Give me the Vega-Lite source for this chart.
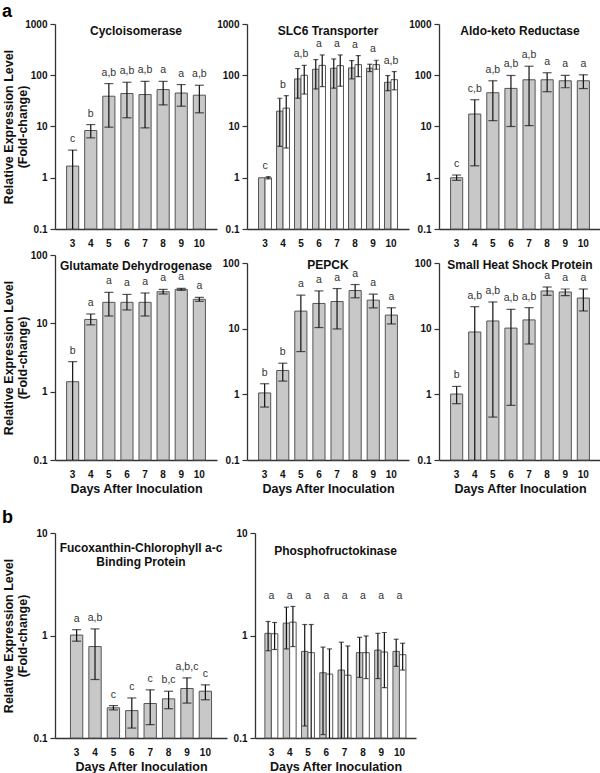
{
"$schema": "https://vega.github.io/schema/vega-lite/v6.json",
"padding": {"left": 2, "top": 3, "right": 0, "bottom": 0},
"background": "white",
"config": {
  "font": "Liberation Sans",
  "view": {"stroke": null},
  "axis": {"grid": false, "domainColor": "#333", "domainWidth": 1.3, "tickColor": "#333", "labelFont": "Liberation Sans", "labelFontSize": 10, "labelFontWeight": "bold", "labelColor": "#111", "titleFont": "Liberation Sans", "titleFontSize": 12.5, "titleFontWeight": "bold", "titleColor": "#111"},
  "axisX": {"ticks": false, "tickSize": 0, "labelPadding": 9, "labelAngle": 0, "titlePadding": 3},
  "axisY": {"tickSize": 5, "tickWidth": 1.2, "labelPadding": 3},
  "title": {"font": "Liberation Sans", "fontSize": 12, "fontWeight": "bold", "color": "#111"}
},
"datasets": {
  "bars": [
    {"gene": "Cycloisomerase", "day": 3, "series": "A", "mean": 1.69, "lo": 0.1, "hi": 3.46},
    {"gene": "Cycloisomerase", "day": 4, "series": "A", "mean": 8.36, "lo": 6.0, "hi": 10.9},
    {"gene": "Cycloisomerase", "day": 5, "series": "A", "mean": 39, "lo": 9.7, "hi": 68.8},
    {"gene": "Cycloisomerase", "day": 6, "series": "A", "mean": 44, "lo": 14.8, "hi": 73},
    {"gene": "Cycloisomerase", "day": 7, "series": "A", "mean": 42, "lo": 9.4, "hi": 76},
    {"gene": "Cycloisomerase", "day": 8, "series": "A", "mean": 52.6, "lo": 26.4, "hi": 76},
    {"gene": "Cycloisomerase", "day": 9, "series": "A", "mean": 45, "lo": 24.9, "hi": 65.8},
    {"gene": "Cycloisomerase", "day": 10, "series": "A", "mean": 40.8, "lo": 18.5, "hi": 63.8},
    {"gene": "SLC6 Transporter", "day": 3, "series": "A", "mean": 1.0, "lo": null, "hi": null},
    {"gene": "SLC6 Transporter", "day": 3, "series": "B", "mean": 1.0, "lo": 0.95, "hi": 1.05},
    {"gene": "SLC6 Transporter", "day": 4, "series": "A", "mean": 19.9, "lo": 4.1, "hi": 35.6},
    {"gene": "SLC6 Transporter", "day": 4, "series": "B", "mean": 22.8, "lo": 3.8, "hi": 40},
    {"gene": "SLC6 Transporter", "day": 5, "series": "A", "mean": 84.8, "lo": 35.6, "hi": 135},
    {"gene": "SLC6 Transporter", "day": 5, "series": "B", "mean": 100, "lo": 43, "hi": 156},
    {"gene": "SLC6 Transporter", "day": 6, "series": "A", "mean": 131, "lo": 54, "hi": 202},
    {"gene": "SLC6 Transporter", "day": 6, "series": "B", "mean": 156, "lo": 60, "hi": 249},
    {"gene": "SLC6 Transporter", "day": 7, "series": "A", "mean": 137, "lo": 56, "hi": 208},
    {"gene": "SLC6 Transporter", "day": 7, "series": "B", "mean": 154, "lo": 61, "hi": 249},
    {"gene": "SLC6 Transporter", "day": 8, "series": "A", "mean": 139, "lo": 85, "hi": 193},
    {"gene": "SLC6 Transporter", "day": 8, "series": "B", "mean": 161, "lo": 94, "hi": 242},
    {"gene": "SLC6 Transporter", "day": 9, "series": "A", "mean": 137, "lo": 118, "hi": 164},
    {"gene": "SLC6 Transporter", "day": 9, "series": "B", "mean": 161, "lo": 131, "hi": 196},
    {"gene": "SLC6 Transporter", "day": 10, "series": "A", "mean": 73, "lo": 50, "hi": 98.6},
    {"gene": "SLC6 Transporter", "day": 10, "series": "B", "mean": 82, "lo": 52, "hi": 118},
    {"gene": "Aldo-keto Reductase", "day": 3, "series": "A", "mean": 1.0, "lo": 0.89, "hi": 1.13},
    {"gene": "Aldo-keto Reductase", "day": 4, "series": "A", "mean": 17.5, "lo": 1.71, "hi": 33.3},
    {"gene": "Aldo-keto Reductase", "day": 5, "series": "A", "mean": 45.6, "lo": 13, "hi": 78},
    {"gene": "Aldo-keto Reductase", "day": 6, "series": "A", "mean": 55.4, "lo": 10, "hi": 99},
    {"gene": "Aldo-keto Reductase", "day": 7, "series": "A", "mean": 81.6, "lo": 10.4, "hi": 150},
    {"gene": "Aldo-keto Reductase", "day": 8, "series": "A", "mean": 81.6, "lo": 47.7, "hi": 112},
    {"gene": "Aldo-keto Reductase", "day": 9, "series": "A", "mean": 78, "lo": 57, "hi": 99},
    {"gene": "Aldo-keto Reductase", "day": 10, "series": "A", "mean": 78, "lo": 55, "hi": 102},
    {"gene": "Glutamate Dehydrogenase", "day": 3, "series": "A", "mean": 1.4, "lo": 0.1, "hi": 2.75},
    {"gene": "Glutamate Dehydrogenase", "day": 4, "series": "A", "mean": 11.4, "lo": 9.5, "hi": 13.7},
    {"gene": "Glutamate Dehydrogenase", "day": 5, "series": "A", "mean": 20.3, "lo": 12.8, "hi": 28.4},
    {"gene": "Glutamate Dehydrogenase", "day": 6, "series": "A", "mean": 20.3, "lo": 15.7, "hi": 26.5},
    {"gene": "Glutamate Dehydrogenase", "day": 7, "series": "A", "mean": 20.3, "lo": 12.8, "hi": 27.8},
    {"gene": "Glutamate Dehydrogenase", "day": 8, "series": "A", "mean": 29, "lo": 26.9, "hi": 31.4},
    {"gene": "Glutamate Dehydrogenase", "day": 9, "series": "A", "mean": 31.4, "lo": 30.4, "hi": 32.5},
    {"gene": "Glutamate Dehydrogenase", "day": 10, "series": "A", "mean": 22.5, "lo": 21, "hi": 24},
    {"gene": "PEPCK", "day": 3, "series": "A", "mean": 1.05, "lo": 0.64, "hi": 1.45},
    {"gene": "PEPCK", "day": 4, "series": "A", "mean": 2.31, "lo": 1.59, "hi": 2.98},
    {"gene": "PEPCK", "day": 5, "series": "A", "mean": 18.5, "lo": 4.48, "hi": 32.4},
    {"gene": "PEPCK", "day": 6, "series": "A", "mean": 24.2, "lo": 10.4, "hi": 37.6},
    {"gene": "PEPCK", "day": 7, "series": "A", "mean": 25.9, "lo": 9.9, "hi": 40.8},
    {"gene": "PEPCK", "day": 8, "series": "A", "mean": 38.1, "lo": 29.5, "hi": 47},
    {"gene": "PEPCK", "day": 9, "series": "A", "mean": 27.2, "lo": 20.8, "hi": 33.5},
    {"gene": "PEPCK", "day": 10, "series": "A", "mean": 16.1, "lo": 11.8, "hi": 20.8},
    {"gene": "Small Heat Shock Protein", "day": 3, "series": "A", "mean": 1.01, "lo": 0.72, "hi": 1.32},
    {"gene": "Small Heat Shock Protein", "day": 4, "series": "A", "mean": 8.9, "lo": 0.1, "hi": 21.6},
    {"gene": "Small Heat Shock Protein", "day": 5, "series": "A", "mean": 13.1, "lo": 0.45, "hi": 25.5},
    {"gene": "Small Heat Shock Protein", "day": 6, "series": "A", "mean": 10.2, "lo": 0.68, "hi": 19.7},
    {"gene": "Small Heat Shock Protein", "day": 7, "series": "A", "mean": 13.6, "lo": 5.84, "hi": 20.9},
    {"gene": "Small Heat Shock Protein", "day": 8, "series": "A", "mean": 37.5, "lo": 32.2, "hi": 43.1},
    {"gene": "Small Heat Shock Protein", "day": 9, "series": "A", "mean": 36.2, "lo": 31.8, "hi": 40.2},
    {"gene": "Small Heat Shock Protein", "day": 10, "series": "A", "mean": 29.3, "lo": 18.6, "hi": 40.2},
    {"gene": "Fucoxanthin-Chlorophyll a-c Binding Protein", "day": 3, "series": "A", "mean": 1.01, "lo": 0.88, "hi": 1.14},
    {"gene": "Fucoxanthin-Chlorophyll a-c Binding Protein", "day": 4, "series": "A", "mean": 0.78, "lo": 0.372, "hi": 1.16},
    {"gene": "Fucoxanthin-Chlorophyll a-c Binding Protein", "day": 5, "series": "A", "mean": 0.197, "lo": 0.188, "hi": 0.207},
    {"gene": "Fucoxanthin-Chlorophyll a-c Binding Protein", "day": 6, "series": "A", "mean": 0.185, "lo": 0.125, "hi": 0.246},
    {"gene": "Fucoxanthin-Chlorophyll a-c Binding Protein", "day": 7, "series": "A", "mean": 0.217, "lo": 0.135, "hi": 0.295},
    {"gene": "Fucoxanthin-Chlorophyll a-c Binding Protein", "day": 8, "series": "A", "mean": 0.241, "lo": 0.193, "hi": 0.286},
    {"gene": "Fucoxanthin-Chlorophyll a-c Binding Protein", "day": 9, "series": "A", "mean": 0.304, "lo": 0.219, "hi": 0.386},
    {"gene": "Fucoxanthin-Chlorophyll a-c Binding Protein", "day": 10, "series": "A", "mean": 0.286, "lo": 0.236, "hi": 0.33},
    {"gene": "Phosphofructokinase", "day": 3, "series": "A", "mean": 1.05, "lo": 0.71, "hi": 1.37},
    {"gene": "Phosphofructokinase", "day": 3, "series": "B", "mean": 1.04, "lo": 0.73, "hi": 1.34},
    {"gene": "Phosphofructokinase", "day": 4, "series": "A", "mean": 1.32, "lo": 0.74, "hi": 1.89},
    {"gene": "Phosphofructokinase", "day": 4, "series": "B", "mean": 1.35, "lo": 0.78, "hi": 1.92},
    {"gene": "Phosphofructokinase", "day": 5, "series": "A", "mean": 0.70, "lo": 0.131, "hi": 1.28},
    {"gene": "Phosphofructokinase", "day": 5, "series": "B", "mean": 0.68, "lo": 0.1, "hi": 1.28},
    {"gene": "Phosphofructokinase", "day": 6, "series": "A", "mean": 0.433, "lo": 0.108, "hi": 0.77},
    {"gene": "Phosphofructokinase", "day": 6, "series": "B", "mean": 0.42, "lo": 0.1, "hi": 0.74},
    {"gene": "Phosphofructokinase", "day": 7, "series": "A", "mean": 0.46, "lo": 0.1, "hi": 0.86},
    {"gene": "Phosphofructokinase", "day": 7, "series": "B", "mean": 0.41, "lo": 0.1, "hi": 0.79},
    {"gene": "Phosphofructokinase", "day": 8, "series": "A", "mean": 0.68, "lo": 0.39, "hi": 0.96},
    {"gene": "Phosphofructokinase", "day": 8, "series": "B", "mean": 0.68, "lo": 0.38, "hi": 0.99},
    {"gene": "Phosphofructokinase", "day": 9, "series": "A", "mean": 0.72, "lo": 0.38, "hi": 1.05},
    {"gene": "Phosphofructokinase", "day": 9, "series": "B", "mean": 0.69, "lo": 0.31, "hi": 1.07},
    {"gene": "Phosphofructokinase", "day": 10, "series": "A", "mean": 0.70, "lo": 0.50, "hi": 0.92},
    {"gene": "Phosphofructokinase", "day": 10, "series": "B", "mean": 0.65, "lo": 0.46, "hi": 0.84}
  ],
  "letters": [
    {"gene": "Cycloisomerase", "day": 3, "letter": "c", "top": 3.46},
    {"gene": "Cycloisomerase", "day": 4, "letter": "b", "top": 10.9},
    {"gene": "Cycloisomerase", "day": 5, "letter": "a,b", "top": 68.8},
    {"gene": "Cycloisomerase", "day": 6, "letter": "a,b", "top": 73},
    {"gene": "Cycloisomerase", "day": 7, "letter": "a,b", "top": 76},
    {"gene": "Cycloisomerase", "day": 8, "letter": "a", "top": 76},
    {"gene": "Cycloisomerase", "day": 9, "letter": "a", "top": 65.8},
    {"gene": "Cycloisomerase", "day": 10, "letter": "a,b", "top": 63.8},
    {"gene": "SLC6 Transporter", "day": 3, "letter": "c", "top": 1.05},
    {"gene": "SLC6 Transporter", "day": 4, "letter": "b", "top": 40},
    {"gene": "SLC6 Transporter", "day": 5, "letter": "a,b", "top": 156},
    {"gene": "SLC6 Transporter", "day": 6, "letter": "a", "top": 249},
    {"gene": "SLC6 Transporter", "day": 7, "letter": "a", "top": 249},
    {"gene": "SLC6 Transporter", "day": 8, "letter": "a", "top": 242},
    {"gene": "SLC6 Transporter", "day": 9, "letter": "a", "top": 196},
    {"gene": "SLC6 Transporter", "day": 10, "letter": "a,b", "top": 118},
    {"gene": "Aldo-keto Reductase", "day": 3, "letter": "c", "top": 1.13},
    {"gene": "Aldo-keto Reductase", "day": 4, "letter": "c,b", "top": 33.3},
    {"gene": "Aldo-keto Reductase", "day": 5, "letter": "a,b", "top": 78},
    {"gene": "Aldo-keto Reductase", "day": 6, "letter": "a,b", "top": 99},
    {"gene": "Aldo-keto Reductase", "day": 7, "letter": "a,b", "top": 150},
    {"gene": "Aldo-keto Reductase", "day": 8, "letter": "a", "top": 112},
    {"gene": "Aldo-keto Reductase", "day": 9, "letter": "a", "top": 99},
    {"gene": "Aldo-keto Reductase", "day": 10, "letter": "a", "top": 102},
    {"gene": "Glutamate Dehydrogenase", "day": 3, "letter": "b", "top": 2.75},
    {"gene": "Glutamate Dehydrogenase", "day": 4, "letter": "a", "top": 13.7},
    {"gene": "Glutamate Dehydrogenase", "day": 5, "letter": "a", "top": 28.4},
    {"gene": "Glutamate Dehydrogenase", "day": 6, "letter": "a", "top": 26.5},
    {"gene": "Glutamate Dehydrogenase", "day": 7, "letter": "a", "top": 27.8},
    {"gene": "Glutamate Dehydrogenase", "day": 8, "letter": "a", "top": 31.4},
    {"gene": "Glutamate Dehydrogenase", "day": 9, "letter": "a", "top": 32.5},
    {"gene": "Glutamate Dehydrogenase", "day": 10, "letter": "a", "top": 24},
    {"gene": "PEPCK", "day": 3, "letter": "b", "top": 1.45},
    {"gene": "PEPCK", "day": 4, "letter": "b", "top": 2.98},
    {"gene": "PEPCK", "day": 5, "letter": "a", "top": 32.4},
    {"gene": "PEPCK", "day": 6, "letter": "a", "top": 37.6},
    {"gene": "PEPCK", "day": 7, "letter": "a", "top": 40.8},
    {"gene": "PEPCK", "day": 8, "letter": "a", "top": 47},
    {"gene": "PEPCK", "day": 9, "letter": "a", "top": 33.5},
    {"gene": "PEPCK", "day": 10, "letter": "a", "top": 20.8},
    {"gene": "Small Heat Shock Protein", "day": 3, "letter": "b", "top": 1.32},
    {"gene": "Small Heat Shock Protein", "day": 4, "letter": "a,b", "top": 21.6},
    {"gene": "Small Heat Shock Protein", "day": 5, "letter": "a,b", "top": 25.5},
    {"gene": "Small Heat Shock Protein", "day": 6, "letter": "a,b", "top": 19.7},
    {"gene": "Small Heat Shock Protein", "day": 7, "letter": "a,b", "top": 20.9},
    {"gene": "Small Heat Shock Protein", "day": 8, "letter": "a", "top": 43.1},
    {"gene": "Small Heat Shock Protein", "day": 9, "letter": "a", "top": 40.2},
    {"gene": "Small Heat Shock Protein", "day": 10, "letter": "a", "top": 40.2},
    {"gene": "Fucoxanthin-Chlorophyll a-c Binding Protein", "day": 3, "letter": "a", "top": 1.14},
    {"gene": "Fucoxanthin-Chlorophyll a-c Binding Protein", "day": 4, "letter": "a,b", "top": 1.16},
    {"gene": "Fucoxanthin-Chlorophyll a-c Binding Protein", "day": 5, "letter": "c", "top": 0.207},
    {"gene": "Fucoxanthin-Chlorophyll a-c Binding Protein", "day": 6, "letter": "c", "top": 0.246},
    {"gene": "Fucoxanthin-Chlorophyll a-c Binding Protein", "day": 7, "letter": "c", "top": 0.295},
    {"gene": "Fucoxanthin-Chlorophyll a-c Binding Protein", "day": 8, "letter": "b,c", "top": 0.286},
    {"gene": "Fucoxanthin-Chlorophyll a-c Binding Protein", "day": 9, "letter": "a,b,c", "top": 0.386},
    {"gene": "Fucoxanthin-Chlorophyll a-c Binding Protein", "day": 10, "letter": "c", "top": 0.33},
    {"gene": "Phosphofructokinase", "day": 3, "letter": "a", "top": 1.37},
    {"gene": "Phosphofructokinase", "day": 4, "letter": "a", "top": 1.92},
    {"gene": "Phosphofructokinase", "day": 5, "letter": "a", "top": 1.28},
    {"gene": "Phosphofructokinase", "day": 6, "letter": "a", "top": 0.77},
    {"gene": "Phosphofructokinase", "day": 7, "letter": "a", "top": 0.86},
    {"gene": "Phosphofructokinase", "day": 8, "letter": "a", "top": 0.99},
    {"gene": "Phosphofructokinase", "day": 9, "letter": "a", "top": 1.07},
    {"gene": "Phosphofructokinase", "day": 10, "letter": "a", "top": 0.92}
  ]
},
"spacing": 14,
"vconcat": [
{
  "title": {"text": "a", "anchor": "start", "frame": "bounds", "fontSize": 18, "fontWeight": "bold", "color": "#000", "offset": -2},
  "columns": 3,
  "spacing": {"row": 26, "column": 30},
  "bounds": "flush",
  "concat": [
  {
    "width": 162, "height": 205,
    "title": {"text": "Cycloisomerase", "offset": -19},
    "layer": [
      {"data": {"name": "bars"}, "transform": [{"filter": "datum.gene === 'Cycloisomerase'"}],
       "mark": {"type": "bar", "fill": "#c8c8c8", "stroke": "#555", "strokeWidth": 1},
       "encoding": {
         "x": {"field": "day", "type": "ordinal", "scale": {"paddingInner": 0.33, "paddingOuter": 0.64}, "axis": {"title": null}},
         "y": {"field": "mean", "type": "quantitative", "scale": {"type": "log", "domain": [0.1, 1000]}, "axis": {"values": [0.1, 1, 10, 100, 1000], "format": ".1~f", "title": ["Relative Expression Level", "(Fold-change)"], "minExtent": 30, "maxExtent": 30, "titlePadding": -4, "titleLineHeight": 14}},
         "y2": {"datum": 0.1}}},
      {"data": {"name": "bars"}, "transform": [{"filter": "datum.gene === 'Cycloisomerase' && datum.hi != null"}],
       "mark": {"type": "rule", "color": "#111", "strokeWidth": 1.2},
       "encoding": {"x": {"field": "day", "type": "ordinal"}, "y": {"field": "lo", "type": "quantitative"}, "y2": {"field": "hi"}}},
      {"data": {"name": "bars"}, "transform": [{"filter": "datum.gene === 'Cycloisomerase' && datum.hi != null"}],
       "mark": {"type": "tick", "color": "#111", "thickness": 1.2, "size": 9},
       "encoding": {"x": {"field": "day", "type": "ordinal"}, "y": {"field": "hi", "type": "quantitative"}}},
      {"data": {"name": "bars"}, "transform": [{"filter": "datum.gene === 'Cycloisomerase' && datum.lo > 0.1"}],
       "mark": {"type": "tick", "color": "#111", "thickness": 1.2, "size": 9},
       "encoding": {"x": {"field": "day", "type": "ordinal"}, "y": {"field": "lo", "type": "quantitative"}}},
      {"data": {"name": "letters"}, "transform": [{"filter": "datum.gene === 'Cycloisomerase'"}],
       "mark": {"type": "text", "baseline": "alphabetic", "dy": -8, "fontSize": 10.5, "color": "#333"},
       "encoding": {"x": {"field": "day", "type": "ordinal"}, "y": {"field": "top", "type": "quantitative"}, "text": {"field": "letter"}}}
    ]
  },
  {
    "width": 162, "height": 205,
    "title": {"text": "SLC6 Transporter", "offset": -19},
    "layer": [
      {"data": {"name": "bars"}, "transform": [{"filter": "datum.gene === 'SLC6 Transporter'"}],
       "mark": {"type": "bar", "stroke": "#555", "strokeWidth": 1},
       "encoding": {
         "x": {"field": "day", "type": "ordinal", "scale": {"paddingInner": 0.28, "paddingOuter": 0.64}, "axis": {"title": null}},
         "xOffset": {"field": "series", "type": "nominal", "scale": {"paddingInner": 0, "paddingOuter": 0}},
         "fill": {"field": "series", "type": "nominal", "scale": {"domain": ["A", "B"], "range": ["#c8c8c8", "#ffffff"]}, "legend": null},
         "y": {"field": "mean", "type": "quantitative", "scale": {"type": "log", "domain": [0.1, 1000]}, "axis": {"values": [0.1, 1, 10, 100, 1000], "format": ".1~f", "title": null}},
         "y2": {"datum": 0.1}}},
      {"data": {"name": "bars"}, "transform": [{"filter": "datum.gene === 'SLC6 Transporter' && datum.hi != null"}],
       "mark": {"type": "rule", "color": "#111", "strokeWidth": 1.2},
       "encoding": {"x": {"field": "day", "type": "ordinal"}, "xOffset": {"field": "series", "type": "nominal"}, "y": {"field": "lo", "type": "quantitative"}, "y2": {"field": "hi"}}},
      {"data": {"name": "bars"}, "transform": [{"filter": "datum.gene === 'SLC6 Transporter' && datum.hi != null"}],
       "mark": {"type": "tick", "color": "#111", "thickness": 1.2, "size": 5},
       "encoding": {"x": {"field": "day", "type": "ordinal"}, "xOffset": {"field": "series", "type": "nominal"}, "y": {"field": "hi", "type": "quantitative"}}},
      {"data": {"name": "bars"}, "transform": [{"filter": "datum.gene === 'SLC6 Transporter' && datum.lo > 0.1"}],
       "mark": {"type": "tick", "color": "#111", "thickness": 1.2, "size": 5},
       "encoding": {"x": {"field": "day", "type": "ordinal"}, "xOffset": {"field": "series", "type": "nominal"}, "y": {"field": "lo", "type": "quantitative"}}},
      {"data": {"name": "letters"}, "transform": [{"filter": "datum.gene === 'SLC6 Transporter'"}],
       "mark": {"type": "text", "baseline": "alphabetic", "dy": -8, "fontSize": 10.5, "color": "#333"},
       "encoding": {"x": {"field": "day", "type": "ordinal"}, "y": {"field": "top", "type": "quantitative"}, "text": {"field": "letter"}}}
    ]
  },
  {
    "width": 162, "height": 205,
    "title": {"text": "Aldo-keto Reductase", "offset": -19},
    "layer": [
      {"data": {"name": "bars"}, "transform": [{"filter": "datum.gene === 'Aldo-keto Reductase'"}],
       "mark": {"type": "bar", "fill": "#c8c8c8", "stroke": "#555", "strokeWidth": 1},
       "encoding": {
         "x": {"field": "day", "type": "ordinal", "scale": {"paddingInner": 0.33, "paddingOuter": 0.64}, "axis": {"title": null}},
         "y": {"field": "mean", "type": "quantitative", "scale": {"type": "log", "domain": [0.1, 1000]}, "axis": {"values": [0.1, 1, 10, 100, 1000], "format": ".1~f", "title": null}},
         "y2": {"datum": 0.1}}},
      {"data": {"name": "bars"}, "transform": [{"filter": "datum.gene === 'Aldo-keto Reductase' && datum.hi != null"}],
       "mark": {"type": "rule", "color": "#111", "strokeWidth": 1.2},
       "encoding": {"x": {"field": "day", "type": "ordinal"}, "y": {"field": "lo", "type": "quantitative"}, "y2": {"field": "hi"}}},
      {"data": {"name": "bars"}, "transform": [{"filter": "datum.gene === 'Aldo-keto Reductase' && datum.hi != null"}],
       "mark": {"type": "tick", "color": "#111", "thickness": 1.2, "size": 9},
       "encoding": {"x": {"field": "day", "type": "ordinal"}, "y": {"field": "hi", "type": "quantitative"}}},
      {"data": {"name": "bars"}, "transform": [{"filter": "datum.gene === 'Aldo-keto Reductase' && datum.lo > 0.1"}],
       "mark": {"type": "tick", "color": "#111", "thickness": 1.2, "size": 9},
       "encoding": {"x": {"field": "day", "type": "ordinal"}, "y": {"field": "lo", "type": "quantitative"}}},
      {"data": {"name": "letters"}, "transform": [{"filter": "datum.gene === 'Aldo-keto Reductase'"}],
       "mark": {"type": "text", "baseline": "alphabetic", "dy": -8, "fontSize": 10.5, "color": "#333"},
       "encoding": {"x": {"field": "day", "type": "ordinal"}, "y": {"field": "top", "type": "quantitative"}, "text": {"field": "letter"}}}
    ]
  },
  {
    "width": 162, "height": 205,
    "title": {"text": "Glutamate Dehydrogenase", "offset": -23},
    "layer": [
      {"data": {"name": "bars"}, "transform": [{"filter": "datum.gene === 'Glutamate Dehydrogenase'"}],
       "mark": {"type": "bar", "fill": "#c8c8c8", "stroke": "#555", "strokeWidth": 1},
       "encoding": {
         "x": {"field": "day", "type": "ordinal", "scale": {"paddingInner": 0.33, "paddingOuter": 0.64}, "axis": {"title": "Days After Inoculation"}},
         "y": {"field": "mean", "type": "quantitative", "scale": {"type": "log", "domain": [0.1, 100]}, "axis": {"values": [0.1, 1, 10, 100], "format": ".1~f", "title": ["Relative Expression Level", "(Fold-change)"], "minExtent": 30, "maxExtent": 30, "titlePadding": -4, "titleLineHeight": 14}},
         "y2": {"datum": 0.1}}},
      {"data": {"name": "bars"}, "transform": [{"filter": "datum.gene === 'Glutamate Dehydrogenase' && datum.hi != null"}],
       "mark": {"type": "rule", "color": "#111", "strokeWidth": 1.2},
       "encoding": {"x": {"field": "day", "type": "ordinal"}, "y": {"field": "lo", "type": "quantitative"}, "y2": {"field": "hi"}}},
      {"data": {"name": "bars"}, "transform": [{"filter": "datum.gene === 'Glutamate Dehydrogenase' && datum.hi != null"}],
       "mark": {"type": "tick", "color": "#111", "thickness": 1.2, "size": 9},
       "encoding": {"x": {"field": "day", "type": "ordinal"}, "y": {"field": "hi", "type": "quantitative"}}},
      {"data": {"name": "bars"}, "transform": [{"filter": "datum.gene === 'Glutamate Dehydrogenase' && datum.lo > 0.1"}],
       "mark": {"type": "tick", "color": "#111", "thickness": 1.2, "size": 9},
       "encoding": {"x": {"field": "day", "type": "ordinal"}, "y": {"field": "lo", "type": "quantitative"}}},
      {"data": {"name": "letters"}, "transform": [{"filter": "datum.gene === 'Glutamate Dehydrogenase'"}],
       "mark": {"type": "text", "baseline": "alphabetic", "dy": -8, "fontSize": 10.5, "color": "#333"},
       "encoding": {"x": {"field": "day", "type": "ordinal"}, "y": {"field": "top", "type": "quantitative"}, "text": {"field": "letter"}}}
    ]
  },
  {
    "width": 162, "height": 205,
    "title": {"text": "PEPCK", "offset": -17},
    "layer": [
      {"data": {"name": "bars"}, "transform": [{"filter": "datum.gene === 'PEPCK'"}],
       "mark": {"type": "bar", "fill": "#c8c8c8", "stroke": "#555", "strokeWidth": 1},
       "encoding": {
         "x": {"field": "day", "type": "ordinal", "scale": {"paddingInner": 0.33, "paddingOuter": 0.64}, "axis": {"title": "Days After Inoculation"}},
         "y": {"field": "mean", "type": "quantitative", "scale": {"type": "log", "domain": [0.1, 100], "range": [205, 8]}, "axis": {"values": [0.1, 1, 10, 100], "format": ".1~f", "title": null}},
         "y2": {"datum": 0.1}}},
      {"data": {"name": "bars"}, "transform": [{"filter": "datum.gene === 'PEPCK' && datum.hi != null"}],
       "mark": {"type": "rule", "color": "#111", "strokeWidth": 1.2},
       "encoding": {"x": {"field": "day", "type": "ordinal"}, "y": {"field": "lo", "type": "quantitative"}, "y2": {"field": "hi"}}},
      {"data": {"name": "bars"}, "transform": [{"filter": "datum.gene === 'PEPCK' && datum.hi != null"}],
       "mark": {"type": "tick", "color": "#111", "thickness": 1.2, "size": 9},
       "encoding": {"x": {"field": "day", "type": "ordinal"}, "y": {"field": "hi", "type": "quantitative"}}},
      {"data": {"name": "bars"}, "transform": [{"filter": "datum.gene === 'PEPCK' && datum.lo > 0.1"}],
       "mark": {"type": "tick", "color": "#111", "thickness": 1.2, "size": 9},
       "encoding": {"x": {"field": "day", "type": "ordinal"}, "y": {"field": "lo", "type": "quantitative"}}},
      {"data": {"name": "letters"}, "transform": [{"filter": "datum.gene === 'PEPCK'"}],
       "mark": {"type": "text", "baseline": "alphabetic", "dy": -8, "fontSize": 10.5, "color": "#333"},
       "encoding": {"x": {"field": "day", "type": "ordinal"}, "y": {"field": "top", "type": "quantitative"}, "text": {"field": "letter"}}}
    ]
  },
  {
    "width": 162, "height": 205,
    "title": {"text": "Small Heat Shock Protein", "offset": -17},
    "layer": [
      {"data": {"name": "bars"}, "transform": [{"filter": "datum.gene === 'Small Heat Shock Protein'"}],
       "mark": {"type": "bar", "fill": "#c8c8c8", "stroke": "#555", "strokeWidth": 1},
       "encoding": {
         "x": {"field": "day", "type": "ordinal", "scale": {"paddingInner": 0.33, "paddingOuter": 0.64}, "axis": {"title": "Days After Inoculation"}},
         "y": {"field": "mean", "type": "quantitative", "scale": {"type": "log", "domain": [0.1, 100], "range": [205, 8]}, "axis": {"values": [0.1, 1, 10, 100], "format": ".1~f", "title": null}},
         "y2": {"datum": 0.1}}},
      {"data": {"name": "bars"}, "transform": [{"filter": "datum.gene === 'Small Heat Shock Protein' && datum.hi != null"}],
       "mark": {"type": "rule", "color": "#111", "strokeWidth": 1.2},
       "encoding": {"x": {"field": "day", "type": "ordinal"}, "y": {"field": "lo", "type": "quantitative"}, "y2": {"field": "hi"}}},
      {"data": {"name": "bars"}, "transform": [{"filter": "datum.gene === 'Small Heat Shock Protein' && datum.hi != null"}],
       "mark": {"type": "tick", "color": "#111", "thickness": 1.2, "size": 9},
       "encoding": {"x": {"field": "day", "type": "ordinal"}, "y": {"field": "hi", "type": "quantitative"}}},
      {"data": {"name": "bars"}, "transform": [{"filter": "datum.gene === 'Small Heat Shock Protein' && datum.lo > 0.1"}],
       "mark": {"type": "tick", "color": "#111", "thickness": 1.2, "size": 9},
       "encoding": {"x": {"field": "day", "type": "ordinal"}, "y": {"field": "lo", "type": "quantitative"}}},
      {"data": {"name": "letters"}, "transform": [{"filter": "datum.gene === 'Small Heat Shock Protein'"}],
       "mark": {"type": "text", "baseline": "alphabetic", "dy": -8, "fontSize": 10.5, "color": "#333"},
       "encoding": {"x": {"field": "day", "type": "ordinal"}, "y": {"field": "top", "type": "quantitative"}, "text": {"field": "letter"}}}
    ]
  }
  ]
},
{
  "title": {"text": "b", "anchor": "start", "frame": "bounds", "fontSize": 18, "fontWeight": "bold", "color": "#000", "offset": 1},
  "spacing": 28,
  "bounds": "flush",
  "hconcat": [
  {
    "width": 172, "height": 205,
    "title": {"text": ["Fucoxanthin-Chlorophyll a-c", "Binding Protein"], "offset": -41, "lineHeight": 14},
    "layer": [
      {"data": {"name": "bars"}, "transform": [{"filter": "datum.gene === 'Fucoxanthin-Chlorophyll a-c Binding Protein'"}],
       "mark": {"type": "bar", "fill": "#c8c8c8", "stroke": "#555", "strokeWidth": 1},
       "encoding": {
         "x": {"field": "day", "type": "ordinal", "scale": {"paddingInner": 0.33, "paddingOuter": 0.84}, "axis": {"title": "Days After Inoculation"}},
         "y": {"field": "mean", "type": "quantitative", "scale": {"type": "log", "domain": [0.1, 10]}, "axis": {"values": [0.1, 1, 10], "format": ".1~f", "title": ["Relative Expression Level", "(Fold-change)"], "minExtent": 30, "maxExtent": 30, "titlePadding": -4, "titleLineHeight": 14}},
         "y2": {"datum": 0.1}}},
      {"data": {"name": "bars"}, "transform": [{"filter": "datum.gene === 'Fucoxanthin-Chlorophyll a-c Binding Protein' && datum.hi != null"}],
       "mark": {"type": "rule", "color": "#111", "strokeWidth": 1.2},
       "encoding": {"x": {"field": "day", "type": "ordinal"}, "y": {"field": "lo", "type": "quantitative"}, "y2": {"field": "hi"}}},
      {"data": {"name": "bars"}, "transform": [{"filter": "datum.gene === 'Fucoxanthin-Chlorophyll a-c Binding Protein' && datum.hi != null"}],
       "mark": {"type": "tick", "color": "#111", "thickness": 1.2, "size": 9},
       "encoding": {"x": {"field": "day", "type": "ordinal"}, "y": {"field": "hi", "type": "quantitative"}}},
      {"data": {"name": "bars"}, "transform": [{"filter": "datum.gene === 'Fucoxanthin-Chlorophyll a-c Binding Protein' && datum.lo > 0.1"}],
       "mark": {"type": "tick", "color": "#111", "thickness": 1.2, "size": 9},
       "encoding": {"x": {"field": "day", "type": "ordinal"}, "y": {"field": "lo", "type": "quantitative"}}},
      {"data": {"name": "letters"}, "transform": [{"filter": "datum.gene === 'Fucoxanthin-Chlorophyll a-c Binding Protein'"}],
       "mark": {"type": "text", "baseline": "alphabetic", "dy": -8, "fontSize": 10.5, "color": "#333"},
       "encoding": {"x": {"field": "day", "type": "ordinal"}, "y": {"field": "top", "type": "quantitative"}, "text": {"field": "letter"}}}
    ]
  },
  {
    "width": 161, "height": 205,
    "title": {"text": "Phosphofructokinase", "offset": -30},
    "layer": [
      {"data": {"name": "bars"}, "transform": [{"filter": "datum.gene === 'Phosphofructokinase'"}],
       "mark": {"type": "bar", "stroke": "#555", "strokeWidth": 1},
       "encoding": {
         "x": {"field": "day", "type": "ordinal", "scale": {"paddingInner": 0.28, "paddingOuter": 0.54}, "axis": {"title": "Days After Inoculation"}},
         "xOffset": {"field": "series", "type": "nominal", "scale": {"paddingInner": 0, "paddingOuter": 0}},
         "fill": {"field": "series", "type": "nominal", "scale": {"domain": ["A", "B"], "range": ["#c8c8c8", "#ffffff"]}, "legend": null},
         "y": {"field": "mean", "type": "quantitative", "scale": {"type": "log", "domain": [0.1, 10]}, "axis": {"values": [0.1, 1, 10], "format": ".1~f", "title": null}},
         "y2": {"datum": 0.1}}},
      {"data": {"name": "bars"}, "transform": [{"filter": "datum.gene === 'Phosphofructokinase' && datum.hi != null"}],
       "mark": {"type": "rule", "color": "#111", "strokeWidth": 1.2},
       "encoding": {"x": {"field": "day", "type": "ordinal"}, "xOffset": {"field": "series", "type": "nominal"}, "y": {"field": "lo", "type": "quantitative"}, "y2": {"field": "hi"}}},
      {"data": {"name": "bars"}, "transform": [{"filter": "datum.gene === 'Phosphofructokinase' && datum.hi != null"}],
       "mark": {"type": "tick", "color": "#111", "thickness": 1.2, "size": 5},
       "encoding": {"x": {"field": "day", "type": "ordinal"}, "xOffset": {"field": "series", "type": "nominal"}, "y": {"field": "hi", "type": "quantitative"}}},
      {"data": {"name": "bars"}, "transform": [{"filter": "datum.gene === 'Phosphofructokinase' && datum.lo > 0.1"}],
       "mark": {"type": "tick", "color": "#111", "thickness": 1.2, "size": 5},
       "encoding": {"x": {"field": "day", "type": "ordinal"}, "xOffset": {"field": "series", "type": "nominal"}, "y": {"field": "lo", "type": "quantitative"}}},
      {"data": {"name": "letters"}, "transform": [{"filter": "datum.gene === 'Phosphofructokinase'"}],
       "mark": {"type": "text", "baseline": "alphabetic", "fontSize": 10.5, "color": "#333"},
       "encoding": {"x": {"field": "day", "type": "ordinal"}, "y": {"datum": 2.25}, "text": {"field": "letter"}}}
    ]
  }
  ]
}
]
}
